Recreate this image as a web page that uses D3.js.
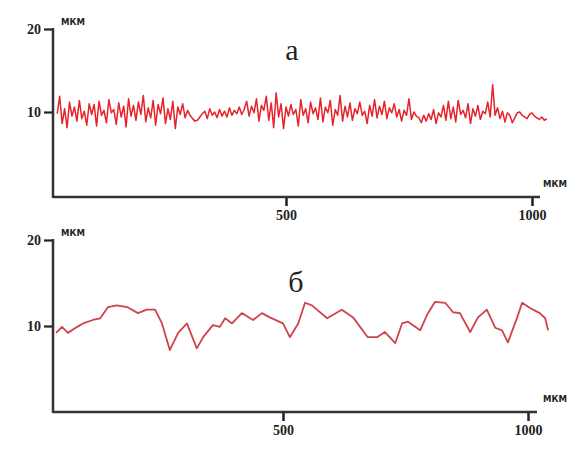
<!DOCTYPE html>
<html>
<head>
<meta charset="utf-8">
<script src="https://cdn.jsdelivr.net/npm/d3@7"></script>
<style>
  body { margin: 0; background: #fff; }
  svg { display: block; }
</style>
</head>
<body>
<svg width="581" height="450"></svg>
<script>
// top panel (а): sampled every 5 µm from 35 µm
const topStart = 35;
const topStep = 5;
const topValues = [
  9.8, 11.9, 8.6, 10.4, 8.1, 11.2, 9.5, 10.6, 8.9, 11.4,
  9.2, 10.1, 8.4, 11.0, 9.7, 10.9, 8.3, 11.3, 9.6, 10.2,
  8.7, 11.5, 9.9, 10.3, 8.5, 11.1, 9.4, 10.7, 8.2, 11.6,
  9.5, 10.8, 9.0, 11.2, 9.7, 12.0, 8.8, 10.5, 9.3, 11.4,
  8.4, 10.9, 9.8, 11.7, 8.6, 10.4, 9.1, 11.3, 8.0, 10.6,
  9.7, 11.0, 9.3, 10.2, 9.6, 9.2, 8.9, 9.0, 9.4, 9.8,
  10.1, 9.2, 10.4, 9.6, 10.0, 9.3, 10.3, 9.5, 10.1, 9.4,
  10.5, 9.6, 10.2, 9.8, 10.6, 9.7, 10.3, 11.3, 9.5, 10.7,
  9.9, 11.6, 8.9, 10.8, 10.2, 11.9, 9.0, 11.1, 8.1, 12.3,
  9.4, 11.0, 8.0, 10.6, 9.5, 10.9, 9.7, 10.3, 8.3, 11.5,
  9.6, 10.4, 8.7, 11.2, 9.8, 10.5, 9.1, 11.7, 8.8, 10.6,
  9.9, 11.4, 8.4, 10.3, 9.6, 12.0, 8.9, 10.7, 9.4, 11.1,
  9.0, 10.4, 9.8, 11.2, 9.6, 10.1, 8.6, 10.8, 9.5, 11.5,
  9.3, 10.7, 9.7, 11.3, 9.2, 10.5, 9.9, 11.0, 9.4, 10.3,
  8.9, 10.2, 9.6, 11.6, 9.1, 10.0, 9.5, 9.3, 8.7, 9.6,
  8.9, 9.8, 9.1, 10.3, 8.6, 9.9, 9.4, 10.8, 9.0, 11.3,
  9.2, 10.6, 8.8, 11.4, 9.7, 10.2, 9.3, 11.0, 8.6, 10.4,
  9.5, 10.8, 9.1, 10.1, 9.8, 11.2, 9.4, 13.3, 9.6, 10.5,
  9.2, 10.1, 8.8, 9.9, 9.6, 8.7, 9.3, 9.9, 10.0, 9.6,
  9.4, 9.2, 9.7, 9.9, 9.5, 9.3, 9.1, 9.4, 9.0, 9.2
];

// bottom panel (б)
const bottomX = [37, 49, 61, 80, 92, 112, 127, 143, 161, 182, 204, 222, 239, 253, 269, 286, 304, 324, 337, 357,
  371, 382, 396, 416, 433, 439, 457, 473, 500, 514, 531, 545, 559, 590, 620, 643, 673, 692, 708, 729,
  743, 755, 780, 794, 810, 831, 847, 861, 882, 898, 916, 933, 947, 959, 978, 988, 1004, 1024, 1035, 1041];
const bottomValues = [9.2, 9.9, 9.2, 9.9, 10.3, 10.7, 10.9, 12.2, 12.4, 12.2, 11.5, 11.9, 11.9, 10.3, 7.2, 9.2, 10.3, 7.4, 8.7, 10.1,
  9.9, 10.9, 10.3, 11.5, 10.9, 10.7, 11.5, 11.0, 10.3, 8.7, 10.3, 12.7, 12.4, 10.9, 11.9, 11.0, 8.7, 8.7, 9.3, 8.0,
  10.3, 10.5, 9.5, 11.3, 12.8, 12.7, 11.6, 11.5, 9.3, 11.0, 11.9, 9.8, 9.5, 8.1, 11.0, 12.7, 12.1, 11.5, 10.9, 9.5];

const xTicks = [500, 1000];
const yTicks = [10, 20];
const panelLabels = ["а", "б"];
const unitLabel = "МКМ";

const serif = "'Liberation Serif', 'DejaVu Serif', serif";
const svg = d3.select("svg");

const panels = [
  { label: panelLabels[0], data: topValues.map((v, i) => ({ x: topStart + i * topStep, y: v })),
    x0: 40, x1: 532, yBottom: 195, yTop: 29, axisY: 197, axisEnd: 540,
    color: "#e6232a", width: 1.5, labelX: 292, labelY: 60 },
  { label: panelLabels[1], data: bottomValues.map((v, i) => ({ x: bottomX[i], y: v })),
    x0: 38, x1: 528, yBottom: 412, yTop: 240, axisY: 412, axisEnd: 537,
    color: "#cf434a", width: 1.8, labelX: 296, labelY: 292 }
];

const axisLeft = 53;

panels.forEach(p => {
  const x = d3.scaleLinear().domain([0, 1000]).range([p.x0, p.x1]);
  const y = d3.scaleLinear().domain([0, 20]).range([p.yBottom, p.yTop]);
  const g = svg.append("g");

  // trace
  g.append("path")
    .datum(p.data)
    .attr("fill", "none")
    .attr("stroke", p.color)
    .attr("stroke-width", p.width)
    .attr("stroke-linejoin", "round")
    .attr("d", d3.line().x(d => x(d.x)).y(d => y(d.y)));

  // y axis
  const ya = g.append("g")
    .attr("transform", `translate(${axisLeft},0)`)
    .call(d3.axisLeft(y).tickValues(yTicks).tickSize(9).tickPadding(3).tickFormat(d3.format("d")));
  ya.select(".domain").remove();
  ya.selectAll(".tick line").attr("stroke", "#222").attr("stroke-width", 2.2);
  g.append("line")
    .attr("x1", axisLeft).attr("x2", axisLeft)
    .attr("y1", y(20) - 1).attr("y2", p.axisY + 1)
    .attr("stroke", "#333").attr("stroke-width", 2.5);

  // x axis
  const xa = g.append("g")
    .attr("transform", `translate(0,${p.axisY})`)
    .call(d3.axisBottom(x).tickValues(xTicks).tickSize(9).tickPadding(4).tickFormat(d3.format("d")));
  xa.select(".domain").remove();
  xa.selectAll(".tick line").attr("stroke", "#222").attr("stroke-width", 2.5);
  g.append("line")
    .attr("x1", axisLeft).attr("x2", p.axisEnd)
    .attr("y1", p.axisY).attr("y2", p.axisY)
    .attr("stroke", "#333").attr("stroke-width", 2.5);

  g.selectAll(".tick text")
    .attr("font-family", serif)
    .attr("font-weight", "bold")
    .attr("font-size", 14)
    .attr("fill", "#222");

  // units
  g.append("text")
    .attr("x", axisLeft + 8).attr("y", y(20) - 4)
    .attr("font-family", "'DejaVu Sans', sans-serif").attr("font-weight", "bold")
    .attr("font-size", 8.5).attr("fill", "#222")
    .text(unitLabel);
  g.append("text")
    .attr("x", 543).attr("y", p.axisY - 10)
    .attr("font-family", "'DejaVu Sans', sans-serif").attr("font-weight", "bold")
    .attr("font-size", 8.5).attr("fill", "#222")
    .text(unitLabel);

  // panel letter
  g.append("text")
    .attr("x", p.labelX).attr("y", p.labelY)
    .attr("text-anchor", "middle")
    .attr("font-family", serif).attr("font-size", 30).attr("fill", "#222")
    .text(p.label);
});
</script>
</body>
</html>
